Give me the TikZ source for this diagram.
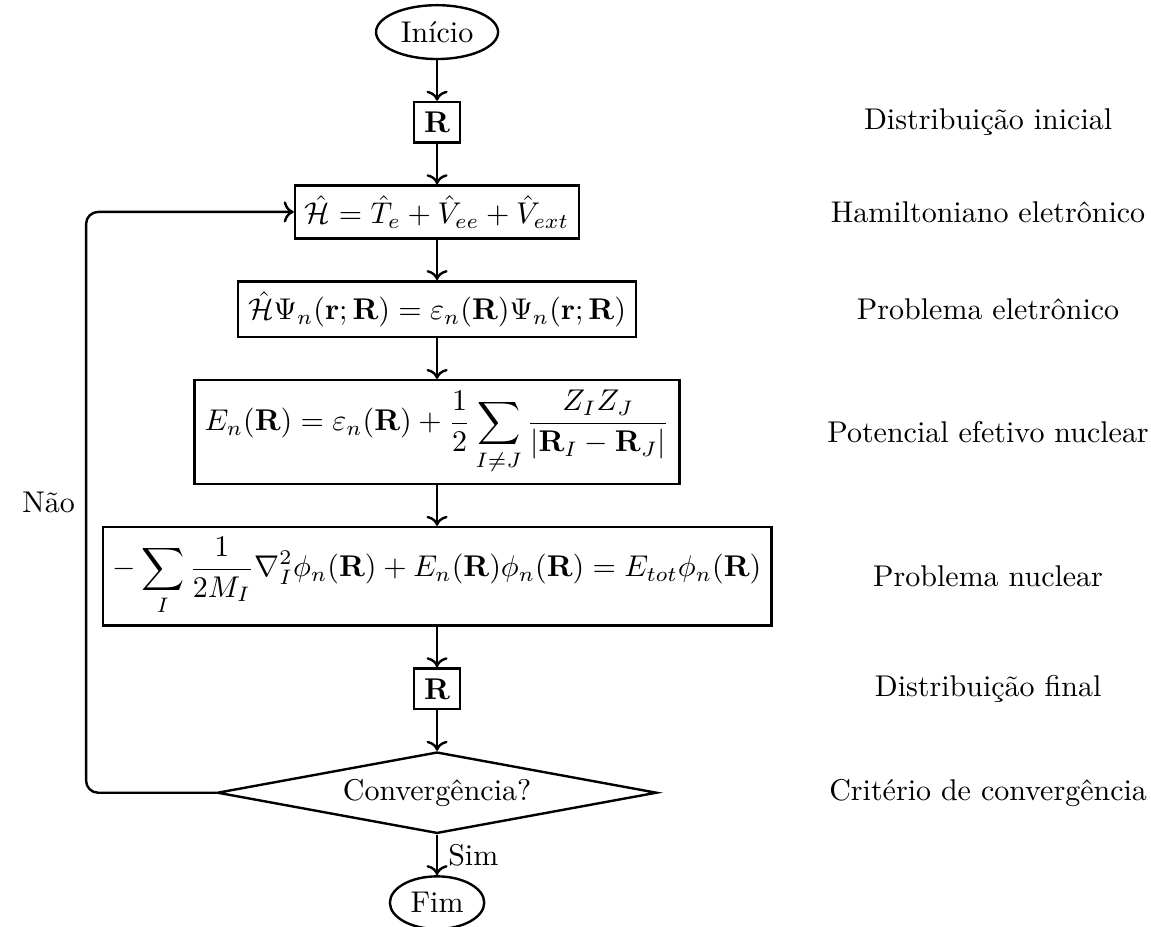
\documentclass[tikz,border=0pt]{standalone}
\usepackage{amsmath}
\usepackage{amssymb}
\usepackage{tikz}
\usetikzlibrary{arrows.meta, positioning, shapes.geometric, calc}

\begin{document}
\begin{tikzpicture}[
    node distance=4.75mm,
    box/.style={draw, thick, rectangle},
    term/.style={draw, thick, ellipse, inner xsep=2.3pt, inner ysep=2.8pt},
    test/.style={draw, thick, diamond, aspect=5.4, inner sep=2.7pt},
    flow/.style={->, thick},
    note/.style={anchor=center},
]
    \useasboundingbox (-145.7pt, 10.7pt) rectangle (238pt, -298pt);

    \node[term] (inicio) at (0, 0) {Início};
    \node[box, below=of inicio] (rini) {$\mathbf{R}$};
    \node[box, below=of rini] (ham) {$\hat{\mathcal{H}} = \hat{T}_e + \hat{V}_{ee} + \hat{V}_{ext}$};
    \node[box, below=of ham] (elet) {$\hat{\mathcal{H}}\Psi_n(\mathbf{r};\mathbf{R}) = \varepsilon_n(\mathbf{R})\Psi_n(\mathbf{r};\mathbf{R})$};
    \node[box, below=of elet] (pot) {$\displaystyle E_n(\mathbf{R}) = \varepsilon_n(\mathbf{R}) + \frac{1}{2}\sum_{I\neq J}\frac{Z_I Z_J}{|\mathbf{R}_I - \mathbf{R}_J|}$};
    \node[box, below=of pot] (nucl) {$\displaystyle -\sum_I \frac{1}{2M_I}\nabla_I^2\phi_n(\mathbf{R}) + E_n(\mathbf{R})\phi_n(\mathbf{R}) = E_{tot}\phi_n(\mathbf{R})$};
    \node[box, below=of nucl] (rfin) {$\mathbf{R}$};
    \node[test, below=of rfin] (conv) {Convergência?};
    \node[term, below=of conv] (fim) {Fim};

    \coordinate (col) at (183.7pt, 0);
    \coordinate (back) at (-117pt, 0);

    \node[note] (dini) at (rini -| col) {Distribuição inicial};
    \node[note] (dham) at (ham -| col) {Hamiltoniano eletrônico};
    \node[note] (delet) at (elet -| col) {Problema eletrônico};
    \node[note] (dpot) at (pot -| col) {Potencial efetivo nuclear};
    \node[note] (dnucl) at (nucl -| col) {Problema nuclear};
    \node[note] (dfin) at (rfin -| col) {Distribuição final};
    \node[note] (dconv) at (conv -| col) {Critério de convergência};

    \draw[flow] (inicio) -- (rini);
    \draw[flow] (rini) -- (ham);
    \draw[flow] (ham) -- (elet);
    \draw[flow] (elet) -- (pot);
    \draw[flow] (pot) -- (nucl);
    \draw[flow] (nucl) -- (rfin);
    \draw[flow] (rfin) -- (conv);
    \draw[flow] (conv) -- node[right] {Sim} (fim);
    \draw[flow, rounded corners=4pt] (conv.west) -- (conv.west -| back)
        -- node[left] {Não} (ham.west -| back) -- (ham.west);
\end{tikzpicture}
\end{document}
